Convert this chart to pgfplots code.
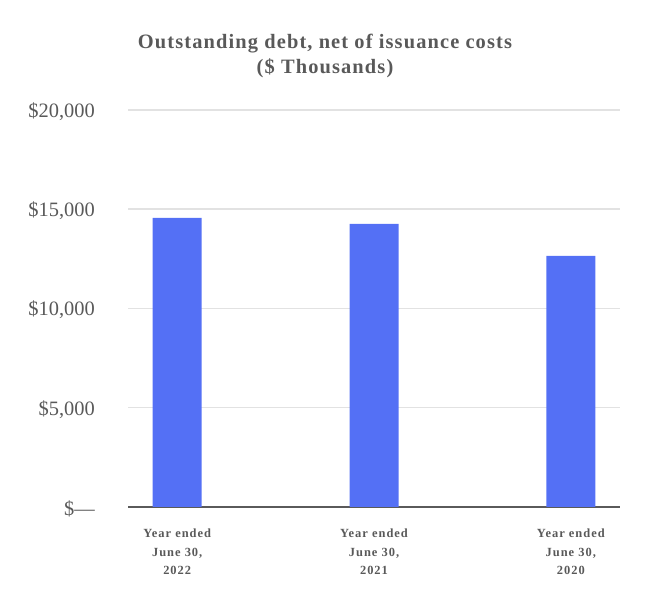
\documentclass[border=0pt]{standalone}
\usepackage{pgfplots}
\pgfplotsset{compat=1.18}
\usepackage{fontspec}
\setmainfont{Liberation Serif}
\definecolor{barblue}{RGB}{84,112,245}
\definecolor{txt}{RGB}{89,89,89}
\definecolor{gridc}{RGB}{226,226,226}
\definecolor{axc}{RGB}{90,90,90}
\begin{document}
\begin{tikzpicture}[x=1bp,y=1bp]
\path[use as bounding box] (0,0) rectangle (650,600);
\begin{axis}[at={(128bp,93bp)}, anchor=south west, scale only axis,
  width=492bp, height=397bp,
  xmin=-0.25, xmax=2.25, ymin=0, ymax=20000,
  scaled y ticks=false,
  axis x line*=bottom, axis y line*=left,
  y axis line style={draw=none},
  x axis line style={draw=axc, line width=1.6bp, -},
  major tick length=0pt,
  ytick={0,5000,10000,15000,20000},
  yticklabels={{\$—},{\$5,000},{\$10,000},{\$15,000},{\$20,000}},
  yticklabel style={font=\fontsize{20.5}{20.5}\selectfont, text=txt, anchor=east, inner sep=0pt, xshift=-33bp, yshift=-1.5bp},
  ymajorgrids, grid style={draw=gridc, line width=1.5bp},
  xtick={0,1,2},
  xticklabels={{Year ended\\June 30,\\2022},{Year ended\\June 30,\\2021},{Year ended\\June 30,\\2020}},
  xticklabel style={align=center, font=\bfseries\fontsize{12.5}{18.5}\selectfont\addfontfeatures{LetterSpace=8}, text=txt, anchor=north, inner sep=0pt, yshift=-22bp},
  clip=false,
]
\addplot[ybar, fill=barblue, draw=none, bar width=49bp] coordinates {(0,14560) (1,14260) (2,12650)};
\end{axis}
\node[align=center, text=txt, font=\bfseries\fontsize{20.5}{26}\selectfont\addfontfeatures{LetterSpace=5.5}] at (325bp,544bp) {Outstanding debt, net of issuance costs\\(\$ Thousands)};
\end{tikzpicture}
\end{document}
